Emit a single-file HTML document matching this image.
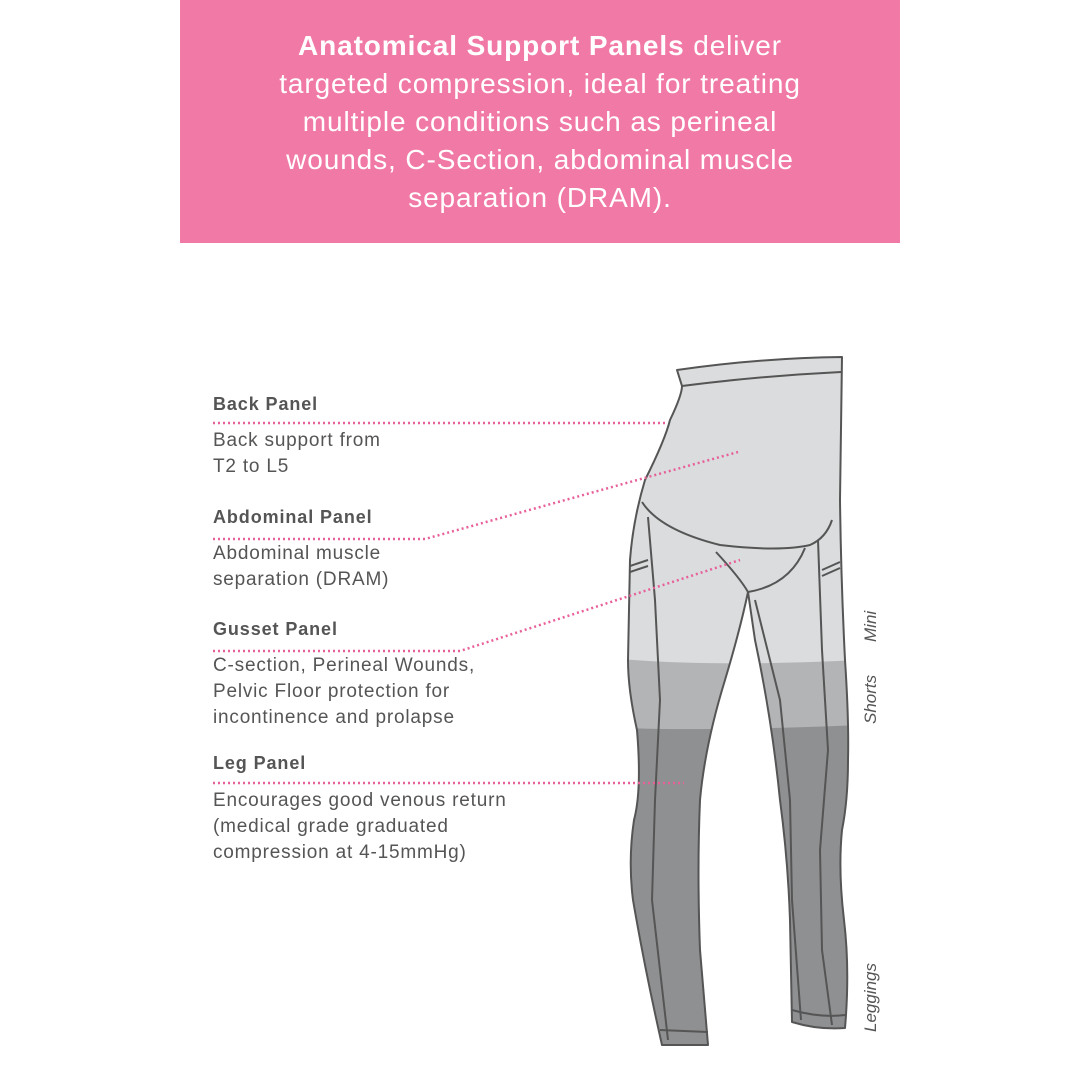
<!DOCTYPE html>
<html><head><meta charset="utf-8"><style>
body{margin:0;width:1080px;height:1080px;background:#fff;position:relative;overflow:hidden;font-family:"Liberation Sans",sans-serif}
.hdr{position:absolute;left:180px;top:0;width:720px;height:243px;background:#f179a6}
.hdr p{margin:0;position:absolute;top:27px;left:0;width:720px;text-align:center;color:#fff;font-size:28px;line-height:38px;letter-spacing:0.9px}
.t{position:absolute;left:213px;color:#555;font-size:18px;letter-spacing:0.9px;white-space:nowrap}
.b{font-weight:bold}
.d{font-size:19px;line-height:26px;color:#555;letter-spacing:0.8px}
</style></head><body>
<div class="hdr"><p><b>Anatomical Support Panels</b> deliver<br>targeted compression, ideal for treating<br>multiple conditions such as perineal<br>wounds, C-Section, abdominal muscle<br>separation (DRAM).</p></div>
<div class="t b" style="top:394px">Back Panel</div>
<div class="t d" style="top:428px">Back support from<br>T2 to L5</div>
<div class="t b" style="top:507px">Abdominal Panel</div>
<div class="t d" style="top:541px">Abdominal muscle<br>separation (DRAM)</div>
<div class="t b" style="top:619px">Gusset Panel</div>
<div class="t d" style="top:653px">C-section, Perineal Wounds,<br>Pelvic Floor protection for<br>incontinence and prolapse</div>
<div class="t b" style="top:753px">Leg Panel</div>
<div class="t d" style="top:788px">Encourages good venous return<br>(medical grade graduated<br>compression at 4-15mmHg)</div>
<svg width="1080" height="1080" style="position:absolute;left:0;top:0">
<defs><clipPath id="c"><path id="p" d="M677,370 Q760,358 842,357 L840,500 Q841,580 845,660 Q849,720 848,760 Q848,800 842,830 Q838,870 844,920 Q850,970 845,1028 Q818,1030 792,1022 L790,920 Q788,860 780,800 Q772,720 755,640 L748,592 Q740,630 725,680 Q705,745 700,800 Q697,870 700,950 L708,1045 L662,1045 Q645,970 633,900 Q628,860 634,820 Q642,790 637,730 Q628,690 628,660 L630,560 Q633,520 645,480 Q665,440 670,420 Q682,395 682,386 Z"/></clipPath></defs>
<g clip-path="url(#c)">
<rect x="600" y="340" width="260" height="720" fill="#dadcdd"/>
<path d="M600,657 Q700,668 860,660 L860,1060 L600,1060Z" fill="#b3b4b6"/>
<path d="M600,727 Q700,732 860,725 L860,1060 L600,1060Z" fill="#8f9092"/>
</g>
<g fill="none" stroke="#555" stroke-width="2" stroke-linejoin="round">
<use href="#p"/>
<path d="M682,386 Q760,376 841,372"/>
<path d="M642,502 Q660,530 720,545 Q780,552 810,545 Q826,538 832,520"/>
<path d="M716,552 Q740,578 748,592 Q790,585 805,548"/>
<path d="M648,517 L655,600 L660,700 L655,800 L652,900 L668,1040"/>
<path d="M818,540 L822,650 L828,750 L820,850 L822,950 L832,1025"/>
<path d="M755,600 L780,700 L790,800 L792,900 L801,1020"/>
<path d="M630,566 L648,560 M630,572 L648,566"/>
<path d="M822,570 L840,562 M822,576 L840,568"/>
<path d="M660,1030 L708,1032 M792,1010 Q820,1018 845,1015"/>
</g>
<g fill="none" stroke="#e8609a" stroke-width="2.5" stroke-dasharray="2 3">
<path d="M213,423 L668,423"/>
<path d="M213,539 L425,539 L738,452"/>
<path d="M213,651 L460,651 L740,560"/>
<path d="M213,783 L684,783"/>
</g>
<g fill="#555" font-size="17" font-style="italic" font-family="Liberation Sans,sans-serif">
<text transform="translate(876,642) rotate(-90)">Mini</text>
<text transform="translate(876,724) rotate(-90)">Shorts</text>
<text transform="translate(876,1032) rotate(-90)">Leggings</text>
</g>
</svg>
</body></html>
